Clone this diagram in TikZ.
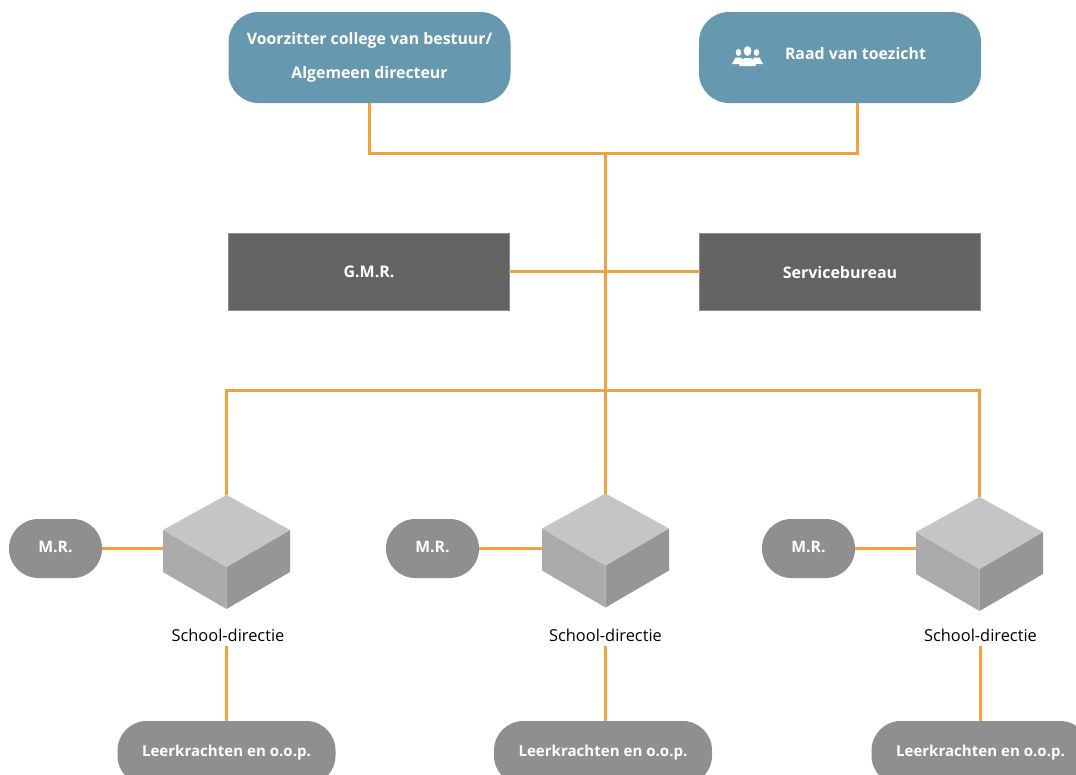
\documentclass[tikz,border=0pt]{standalone}
\usepackage{fontspec}
\setmainfont{Open Sans}
\usetikzlibrary{calc}
\definecolor{tealbox}{HTML}{6699AF}
\definecolor{darkbox}{HTML}{636363}
\definecolor{darkedge}{HTML}{8C8C8C}
\definecolor{pillgray}{HTML}{8F8F8F}
\definecolor{wire}{HTML}{EFA23F}
\definecolor{cubetop}{HTML}{C5C5C5}
\definecolor{cubeleft}{HTML}{ABABAB}
\definecolor{cuberight}{HTML}{969696}
\tikzset{
  every node/.style={inner sep=0pt,outer sep=0pt},
  lead/.style={fill=tealbox,rounded corners=22.5pt,minimum width=211.5pt,minimum height=68.25pt,text=white,font=\fontsize{11.9pt}{26pt}\selectfont\bfseries,align=center},
  darkrect/.style={fill=darkbox,draw=darkedge,line width=1.2pt,minimum width=210.5pt,minimum height=57.5pt,text=white,font=\fontsize{12pt}{13pt}\selectfont\bfseries},
  mrpill/.style={fill=pillgray,rounded corners=22pt,minimum width=69.75pt,minimum height=44.25pt,text=white,font=\fontsize{11.8pt}{13pt}\selectfont\bfseries},
  staffpill/.style={fill=pillgray,rounded corners=22pt,minimum width=163.5pt,minimum height=48pt,text=white,font=\fontsize{11.3pt}{13pt}\selectfont\bfseries},
  cubebox/.style={minimum width=95.25pt,minimum height=85.5pt},
  schoollabel/.style={text=black,font=\fontsize{12.3pt}{14pt}\selectfont},
  wireline/.style={draw=wire,line width=2.25pt,line cap=butt,line join=miter},
}
\newcommand{\isocube}[3]{%
  \node[cubebox] (#1) at (#2,#3) {};
  \fill[cubeleft] (#1.west |- 0,#3-22) -- (#2,#3+15) -- (#1.south) -- (#1.west |- 0,#3+20) -- cycle;
  \fill[cuberight] (#1.east |- 0,#3-22) -- (#2,#3+15) -- (#1.south) -- (#1.east |- 0,#3+20) -- cycle;
  \fill[cubetop] (#1.north) -- (#1.east |- 0,#3-22) -- (#2,#3+15) -- (#1.west |- 0,#3-22) -- cycle;
}
\begin{document}
\begin{tikzpicture}[x=0.75pt,y=-0.75pt]
\useasboundingbox (0,0) rectangle (1076,775);
\clip (0,0) rectangle (1076,775);
% boxes
\node[lead] (chair) at (369.5,57.5) {Voorzitter college van bestuur/\\Algemeen directeur};
\node[lead] (board) at (840,57.5) {};
\node[text=white,font=\fontsize{11.9pt}{13pt}\selectfont\bfseries,anchor=west] (boardtext) at (785,54) {Raad van toezicht};
% people icon
\begin{scope}[shift={(747.5,56)},white]
  \fill (-9,-3.5) ellipse (2.8 and 3.4);
  \fill (9,-3.5) ellipse (2.8 and 3.4);
  \fill (-15.5,8) -- (-12,1.5) -- (-6,1.5) -- (-4,8) -- cycle;
  \fill (15.5,8) -- (12,1.5) -- (6,1.5) -- (4,8) -- cycle;
  \fill (0,-5) ellipse (3.8 and 5);
  \fill (-8.5,10) -- (-7,5) -- (-3,2) -- (3,2) -- (7,5) -- (8.5,10) -- cycle;
\end{scope}
\node[darkrect] (gmr) at (369,272) {G.M.R.};
\node[darkrect] (service) at (840,272) {Servicebureau};
\isocube{cubeA}{226.5}{552}
\isocube{cubeB}{605.5}{550.5}
\isocube{cubeC}{979.5}{554}
\node[mrpill] (mrA) at (55.5,548.5) {\raisebox{2pt}{M.R.}};
\node[mrpill] (mrB) at (432.5,548.5) {\raisebox{2pt}{M.R.}};
\node[mrpill] (mrC) at (808.5,548.5) {\raisebox{2pt}{M.R.}};
\node[schoollabel] (schoolA) at (228,635) {School-directie};
\node[schoollabel] (schoolB) at (605.5,635) {School-directie};
\node[schoollabel] (schoolC) at (980.5,635) {School-directie};
\node[staffpill] (staffA) at (226.5,753) {\raisebox{1.5pt}{Leerkrachten en o.o.p.}};
\node[staffpill] (staffB) at (603,753) {\raisebox{1.5pt}{Leerkrachten en o.o.p.}};
\node[staffpill] (staffC) at (980.5,753) {\raisebox{1.5pt}{Leerkrachten en o.o.p.}};
% connectors
\coordinate (topbar) at (605.5,153.5);
\coordinate (lowbar) at (605.5,390.5);
\coordinate (midbar) at (605.5,271.5);
\draw[wireline] (chair.south) |- (topbar) -| ($(board.south)+(17.5,0)$);
\draw[wireline] (topbar) -- (cubeB.north);
\draw[wireline] (gmr.east |- midbar) -- (service.west |- midbar);
\draw[wireline] (cubeA.north) |- (lowbar) -| (cubeC.north);
\draw[wireline] (mrA.east) -- (mrA.east -| cubeA.west);
\draw[wireline] (mrB.east) -- (mrB.east -| cubeB.west);
\draw[wireline] (mrC.east) -- (mrC.east -| cubeC.west);
\draw[wireline] ($(schoolA.south)+(-1.5,5)$) -- (staffA.north);
\draw[wireline] ($(schoolB.south)+(0,5)$) -- (schoolB.south |- staffB.north);
\draw[wireline] ($(schoolC.south)+(0,5)$) -- (staffC.north);
\end{tikzpicture}
\end{document}
